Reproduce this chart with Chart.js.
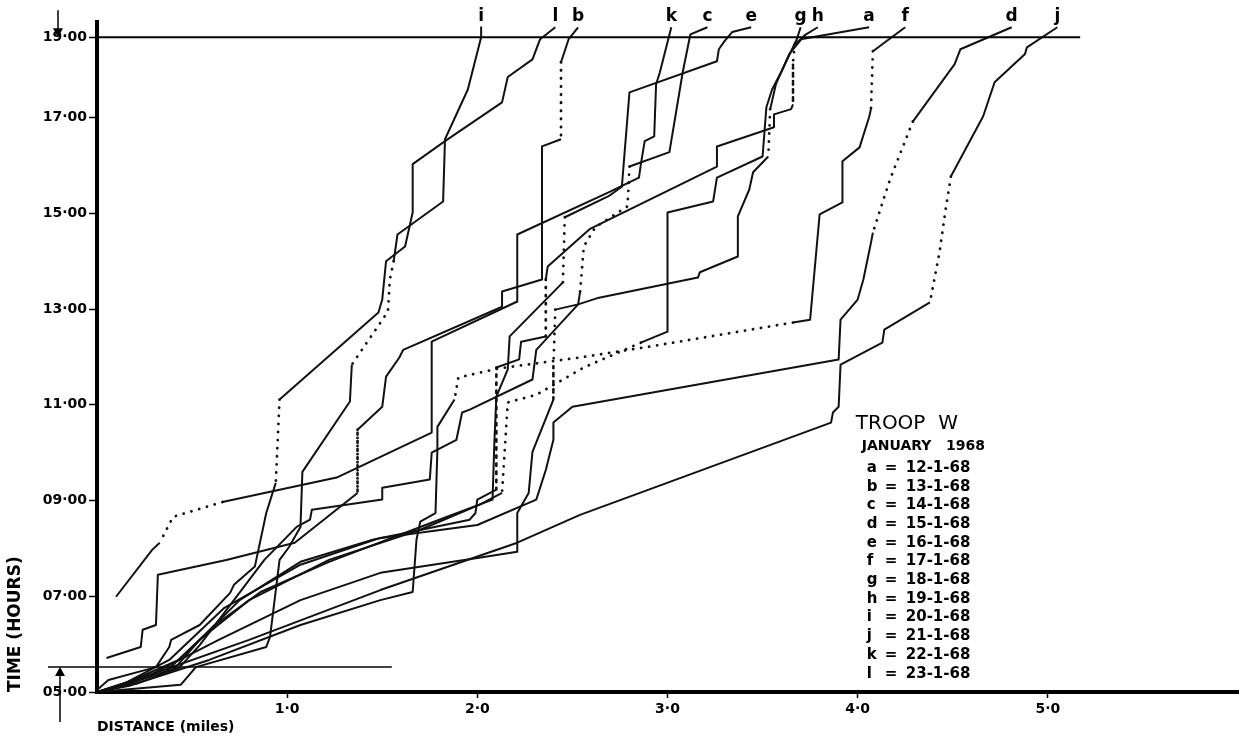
<!DOCTYPE html>
<html>
<head>
<meta charset="utf-8">
<title>Troop W - January 1968</title>
<script src="https://cdn.jsdelivr.net/npm/chart.js@4.4.1/dist/chart.umd.min.js"></script>
<style>
  html, body { margin: 0; padding: 0; background: #fff; }
  #wrap { width: 1246px; height: 740px; }
</style>
</head>
<body>
<div id="wrap"><canvas id="chart" width="1246" height="740"></canvas></div>
<script>
// Day ranges of Troop W, January 1968.
// Each track is [distance (miles), time of day (hours)],
// the dots arrays hold the point indices that end a dotted (unobserved) stretch.
var trackA = [[4.06,18.89],[3.70,18.64],[3.67,18.54],[3.66,18.16],[3.66,17.28],[3.65,17.18],[3.56,17.07],[3.56,16.80],[3.26,16.40],[3.26,15.98],[2.59,14.67],[2.37,13.89],[2.36,13.62],[2.36,12.43],[2.23,12.32],[2.22,11.95],[2.10,11.78],[2.10,10.33],[2.10,9.23],[2.00,9.02],[1.99,8.74],[1.96,8.60],[1.45,8.18],[1.07,7.72],[0.75,6.92],[0.54,6.09],[0.41,5.50],[0.17,5.17],[0,5.00]];
var dotsA = [3,4,13,17,18];
var trackB = [[2.53,18.89],[2.48,18.64],[2.44,18.16],[2.44,16.55],[2.34,16.40],[2.34,13.62],[2.13,13.37],[2.13,13.05],[1.61,12.15],[1.59,11.99],[1.52,11.59],[1.50,10.96],[1.37,10.48],[1.37,9.16],[1.04,8.12],[0.68,7.76],[0.32,7.45],[0.31,6.40],[0.24,6.30],[0.23,5.94],[0.05,5.71]];
var dotsB = [3,13];
var trackC = [[3.21,18.89],[3.12,18.74],[3.08,17.95],[3.01,16.28],[2.80,15.98],[2.79,15.15],[2.62,14.71],[2.56,14.31],[2.54,13.35],[2.53,13.10],[2.31,12.15],[2.29,11.53],[1.96,10.90],[1.92,10.84],[1.89,10.27],[1.76,10.00],[1.75,9.44],[1.50,9.27],[1.50,9.02],[1.13,8.81],[1.12,8.60],[1.05,8.45],[0.88,7.76],[0.72,6.92],[0.54,5.98],[0.43,5.50],[0.22,5.19],[0,5.00]];
var dotsC = [5,6,7,8];
var trackD = [[4.81,18.89],[4.54,18.43],[4.51,18.12],[4.29,16.92],[4.27,16.72],[4.17,15.71],[4.08,14.60],[4.07,14.39],[4.03,13.62],[4.00,13.20],[3.91,12.78],[3.90,11.95],[2.50,10.96],[2.40,10.63],[2.40,10.27],[2.36,9.64],[2.31,9.02],[2.00,8.49],[1.49,8.22],[1.07,7.66],[0.67,6.76],[0.38,5.67],[0.12,5.13],[0,5.00]];
var dotsD = [4,5,6];
var trackE = [[3.44,18.89],[3.34,18.79],[3.30,18.60],[3.27,18.43],[3.26,18.18],[2.80,17.53],[2.76,15.56],[2.69,15.36],[2.46,14.92],[2.45,13.56],[2.17,12.43],[2.16,11.74],[2.10,11.17],[2.09,10.27],[2.08,9.02],[1.80,8.60],[1.22,7.72],[0.86,7.09],[0.62,6.40],[0.43,5.67],[0.12,5.13],[0,5.00]];
var dotsE = [9];
var trackF = [[4.25,18.89],[4.08,18.39],[4.07,17.18],[4.06,17.01],[4.01,16.38],[3.92,16.09],[3.92,15.23],[3.80,14.98],[3.75,12.78],[3.66,12.72],[2.91,12.22],[2.54,11.99],[2.11,11.76],[1.90,11.57],[1.88,11.11],[1.79,10.54],[1.79,10.06],[1.78,8.74],[1.70,8.56],[1.68,8.18],[1.66,7.09],[1.49,6.92],[1.07,6.40],[0.59,5.67],[0.17,5.13],[0,5.00]];
var dotsF = [2,10,11,12,13,14];
var trackG = [[3.70,18.89],[3.68,18.64],[3.60,17.97],[3.55,17.59],[3.52,17.22],[3.50,16.19],[3.26,15.75],[3.24,15.25],[3.00,15.02],[3.00,12.53],[2.86,12.30],[2.56,11.78],[2.31,11.21],[2.16,11.05],[2.13,9.16],[2.01,8.91],[1.70,8.39],[1.22,7.76],[0.80,6.92],[0.54,6.09],[0.36,5.42],[0.07,5.08],[0,5.00]];
var dotsG = [11,12,13,14];
var trackH = [[3.79,18.89],[3.72,18.72],[3.64,18.33],[3.57,17.70],[3.54,17.18],[3.53,16.19],[3.45,15.86],[3.43,15.50],[3.37,14.94],[3.37,14.10],[3.17,13.77],[3.16,13.66],[2.64,13.24],[2.53,13.10],[2.41,12.99],[2.40,11.80],[2.40,11.11],[2.29,10.02],[2.27,9.16],[2.21,8.74],[2.21,7.93],[2.00,7.80],[1.49,7.49],[1.07,6.92],[0.64,6.09],[0.28,5.36],[0,5.00]];
var dotsH = [5,15,16];
var trackI = [[2.02,18.89],[2.02,18.68],[1.95,17.59],[1.83,16.55],[1.82,15.25],[1.58,14.56],[1.56,14.00],[1.54,13.62],[1.53,12.95],[1.34,11.84],[1.33,11.07],[1.08,9.60],[1.07,8.45],[1.01,8.03],[0.96,7.76],[0.91,6.15],[0.89,5.94],[0.52,5.52],[0.44,5.15],[0,5.00]];
var dotsI = [7,8,9];
var trackJ = [[5.05,18.89],[4.89,18.47],[4.88,18.33],[4.72,17.74],[4.66,17.03],[4.49,15.77],[4.46,15.02],[4.43,14.18],[4.38,13.14],[4.14,12.57],[4.13,12.30],[3.91,11.84],[3.90,10.96],[3.87,10.84],[3.86,10.63],[2.54,8.70],[2.21,8.12],[1.49,7.13],[0.80,6.09],[0.28,5.36],[0,5.00]];
var dotsJ = [6,7,8];
var trackK = [[3.02,18.89],[2.96,17.95],[2.94,17.70],[2.93,16.61],[2.88,16.51],[2.86,16.03],[2.85,15.75],[2.69,15.44],[2.21,14.56],[2.21,13.16],[1.76,12.32],[1.76,10.42],[1.26,9.48],[0.66,8.97],[0.40,8.66],[0.33,8.12],[0.29,7.97],[0.10,6.99]];
var dotsK = [14,15];
var trackL = [[2.41,18.89],[2.33,18.64],[2.29,18.22],[2.16,17.85],[2.13,17.32],[1.83,16.51],[1.66,16.03],[1.66,15.02],[1.62,14.31],[1.52,14.00],[1.50,13.20],[1.48,12.93],[0.96,11.11],[0.94,9.37],[0.89,8.74],[0.83,7.62],[0.72,7.24],[0.70,7.07],[0.54,6.40],[0.39,6.09],[0.38,5.94],[0.31,5.52],[0.06,5.25],[0,5.04]];
var dotsL = [13];

var trackNames = ['a','b','c','d','e','f','g','h','i','j','k','l'];
var trackDates = ['12-1-68','13-1-68','14-1-68','15-1-68','16-1-68','17-1-68','18-1-68','19-1-68','20-1-68','21-1-68','22-1-68','23-1-68'];

var timeTicks = [5, 7, 9, 11, 13, 15, 17, 18.68];
var timeLabels = ['05\u00b700','07\u00b700','09\u00b700','11\u00b700','13\u00b700','15\u00b700','17\u00b700','19\u00b700'];
var distTicks = [1, 2, 3, 4, 5];
var distLabels = ['1\u00b70','2\u00b70','3\u00b70','4\u00b70','5\u00b70'];

var sunsetHour = 18.68;   // upper horizontal line
var sunriseHour = 5.52;   // lower horizontal line

var tracks = [trackA, trackB, trackC, trackD, trackE, trackF, trackG, trackH, trackI, trackJ, trackK, trackL];
var dotted = [dotsA, dotsB, dotsC, dotsD, dotsE, dotsF, dotsG, dotsH, dotsI, dotsJ, dotsK, dotsL];

var FONT = '"DejaVu Sans", "Liberation Sans", sans-serif';

var datasets = tracks.map(function(track, n) {
    var dots = dotted[n];
    var isDot = function(ctx) { return dots.indexOf(ctx.p1DataIndex) >= 0; };
    return {
        label: trackNames[n],
        data: track.map(function(p) { return { x: p[0], y: p[1] }; }),
        showLine: true,
        borderColor: '#111',
        borderWidth: 2,
        borderJoinStyle: 'round',
        pointRadius: 0,
        pointHoverRadius: 0,
        tension: 0,
        segment: {
            borderDash: function(ctx) { return isDot(ctx) ? [0.1, 8] : undefined; },
            borderWidth: function(ctx) { return isDot(ctx) ? 2.8 : undefined; },
            borderCapStyle: function(ctx) { return isDot(ctx) ? 'round' : undefined; }
        }
    };
});

function arrow(ctx, x, yFrom, yTo) {
    var dir = yTo > yFrom ? 1 : -1;
    ctx.beginPath();
    ctx.moveTo(x, yFrom);
    ctx.lineTo(x, yTo - dir * 6);
    ctx.stroke();
    ctx.beginPath();
    ctx.moveTo(x, yTo);
    ctx.lineTo(x - 5, yTo - dir * 9);
    ctx.lineTo(x + 5, yTo - dir * 9);
    ctx.closePath();
    ctx.fill();
}

// sunrise / sunset lines, arrows, track letters and the key
var decorations = {
    id: 'decorations',
    afterDatasetsDraw: function(chart) {
        var ctx = chart.ctx;
        var xs = chart.scales.x, ys = chart.scales.y;
        var area = chart.chartArea;
        ctx.save();
        ctx.strokeStyle = '#000';
        ctx.fillStyle = '#000';

        var ySet = ys.getPixelForValue(sunsetHour);
        ctx.lineWidth = 2;
        ctx.beginPath();
        ctx.moveTo(area.left, ySet);
        ctx.lineTo(xs.getPixelForValue(5.17), ySet);
        ctx.stroke();

        var yRise = ys.getPixelForValue(sunriseHour);
        ctx.lineWidth = 1.5;
        ctx.beginPath();
        ctx.moveTo(area.left - 49, yRise);
        ctx.lineTo(xs.getPixelForValue(1.55), yRise);
        ctx.stroke();

        ctx.lineWidth = 1.5;
        arrow(ctx, area.left - 39, ySet - 27, ySet);
        arrow(ctx, area.left - 37, yRise + 55, yRise);

        // letters at the evening end of each track
        ctx.font = 'bold 17px ' + FONT;
        ctx.textAlign = 'center';
        ctx.textBaseline = 'middle';
        tracks.forEach(function(track, n) {
            var px = xs.getPixelForValue(track[0][0]);
            var py = ys.getPixelForValue(track[0][1]);
            ctx.fillText(trackNames[n], px, py - 11);
        });

        // key
        var kx = xs.getPixelForValue(3.99);
        var ky = ys.getPixelForValue(10.6);
        ctx.textAlign = 'left';
        ctx.font = '20px ' + FONT;
        ctx.fillText('TROOP  W', kx, ky);
        ctx.font = 'bold 14px ' + FONT;
        ctx.fillText('JANUARY   1968', kx + 6, ky + 22);
        ctx.font = 'bold 15px ' + FONT;
        trackNames.forEach(function(name, n) {
            var ry = ky + 44 + n * 18.7;
            ctx.fillText(name, kx + 11, ry);
            ctx.fillText('=', kx + 29, ry);
            ctx.fillText(trackDates[n], kx + 50, ry);
        });
        ctx.restore();
    }
};

new Chart(document.getElementById('chart'), {
    type: 'scatter',
    data: { datasets: datasets },
    options: {
        responsive: false,
        animation: false,
        layout: { padding: { top: 22, right: 8, left: 0, bottom: 0 } },
        plugins: {
            legend: { display: false },
            tooltip: { enabled: false }
        },
        scales: {
            x: {
                type: 'linear',
                min: 0,
                max: 6,
                afterBuildTicks: function(scale) {
                    scale.ticks = distTicks.map(function(v) { return { value: v }; });
                },
                afterFit: function(scale) { scale.height = 48; },
                ticks: {
                    autoSkip: false,
                    maxRotation: 0,
                    padding: 3,
                    color: '#000',
                    font: { family: FONT, size: 14, weight: 'bold' },
                    callback: function(value) { return distLabels[distTicks.indexOf(value)]; }
                },
                grid: { drawOnChartArea: false, drawTicks: true, tickLength: 6, tickColor: '#000', tickWidth: 1.5 },
                border: { display: true, color: '#000', width: 4 },
                title: {
                    display: true,
                    text: 'DISTANCE (miles)',
                    align: 'start',
                    color: '#000',
                    font: { family: FONT, size: 14, weight: 'bold' },
                    padding: { top: 0, bottom: 4 }
                }
            },
            y: {
                type: 'linear',
                min: 5,
                max: 19,
                afterBuildTicks: function(scale) {
                    scale.ticks = timeTicks.map(function(v) { return { value: v }; });
                },
                afterFit: function(scale) { scale.width = 97; },
                ticks: {
                    autoSkip: false,
                    padding: 2,
                    color: '#000',
                    font: { family: FONT, size: 14, weight: 'bold' },
                    callback: function(value) { return timeLabels[timeTicks.indexOf(value)]; }
                },
                grid: { drawOnChartArea: false, drawTicks: true, tickLength: 8, tickColor: '#000', tickWidth: 1.5 },
                border: { display: true, color: '#000', width: 4 },
                title: {
                    display: true,
                    text: 'TIME (HOURS)',
                    align: 'start',
                    color: '#000',
                    font: { family: FONT, size: 17, weight: 'bold' },
                    padding: { top: 5, bottom: 0 }
                }
            }
        }
    },
    plugins: [decorations]
});
</script>
</body>
</html>
